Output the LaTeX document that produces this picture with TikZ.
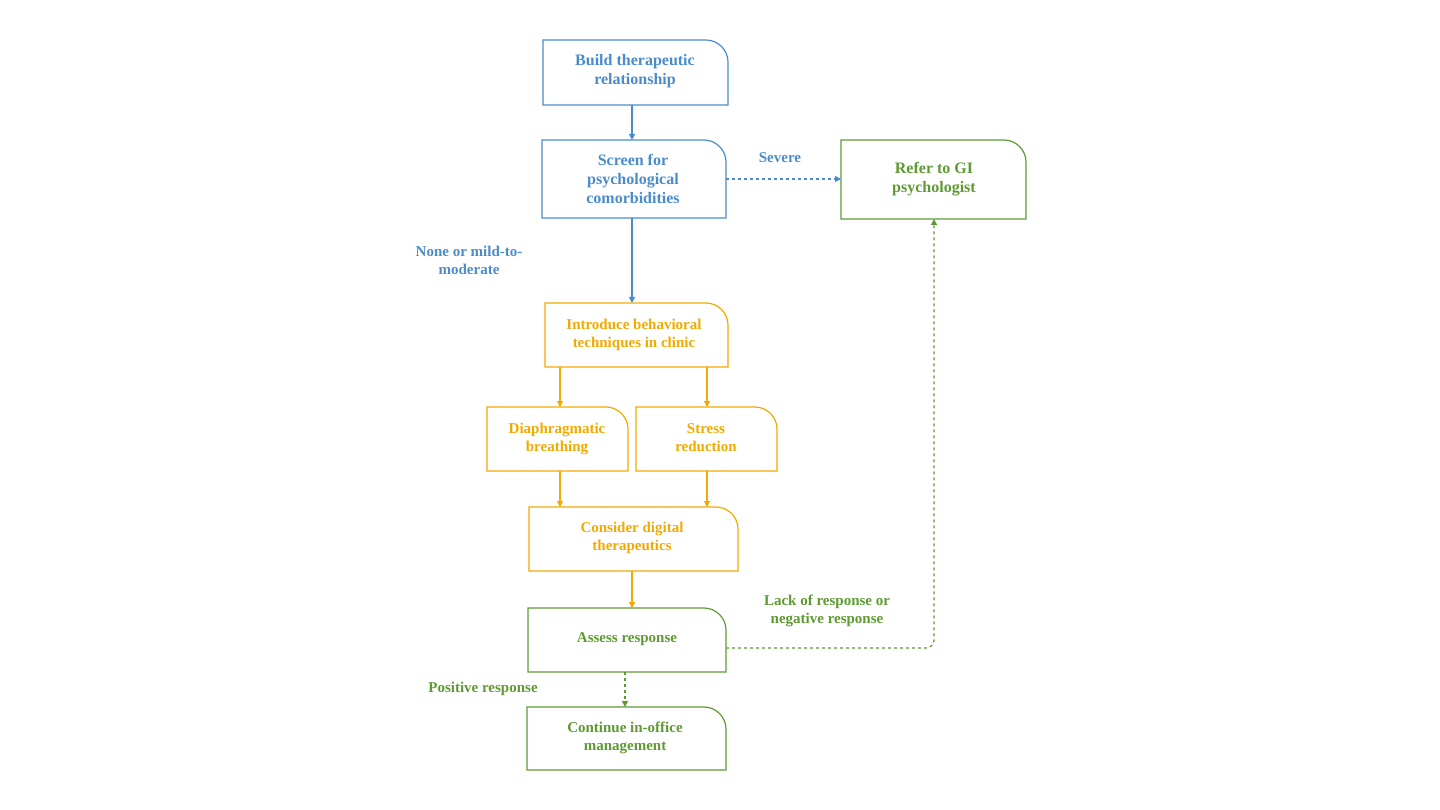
\documentclass[tikz,border=0pt]{standalone}
\usepackage{fontspec}
\setmainfont{Liberation Serif}
\usetikzlibrary{arrows.meta}
\definecolor{cb}{HTML}{4A8CCB}
\definecolor{co}{HTML}{F2A900}
\definecolor{cg}{HTML}{5E9A32}
\begin{document}
\begin{tikzpicture}[x=1pt,y=-1pt,
  lbl/.style={font=\bfseries\fontsize{16}{19}\selectfont,align=center},
  slbl/.style={font=\bfseries\fontsize{15}{18}\selectfont,align=center},
  arr/.style={line width=1.2pt,-{Triangle[length=6pt,width=6pt]}},
  dsh/.style={arr,dash pattern=on 3pt off 3pt}]
\path[use as bounding box] (0,0) rectangle (1440,810);
% box drawing: #1 color, #2 name, x1,y1,x2,y2
\newcommand\mybox[6]{%
  \coordinate (#2nw) at (#3,#4); \coordinate (#2se) at (#5,#6);
  \draw[#1,line width=1.2pt] (#3,#6) -- (#3,#4) -- ({#5-22},#4)
     .. controls ({#5-10},#4) and (#5,{#4+10}) .. (#5,{#4+22}) -- (#5,#6) -- cycle;
  \node (#2) at ({(#3+#5)/2},{(#4+#6)/2}) {};}
\mybox{cb}{build}{543}{40}{728}{105}
\mybox{cb}{screen}{542}{140}{726}{218}
\mybox{cg}{refer}{841}{140}{1026}{219}
\mybox{co}{intro}{545}{303}{728}{367}
\mybox{co}{diaph}{487}{407}{628}{471}
\mybox{co}{stress}{636}{407}{777}{471}
\mybox{co}{cons}{529}{507}{738}{571}
\mybox{cg}{assess}{528}{608}{726}{672}
\mybox{cg}{cont}{527}{707}{726}{770}
\node[lbl,text=cb] at (635,71) {Build therapeutic\\relationship};
\node[lbl,text=cb] at (633,179) {Screen for\\psychological\\comorbidities};
\node[lbl,text=cg] at (934,179) {Refer to GI\\psychologist};
\node[slbl,text=co] at (634,335) {Introduce behavioral\\techniques in clinic};
\node[slbl,text=co] at (557,439) {Diaphragmatic\\breathing};
\node[slbl,text=co] at (706,438) {Stress\\reduction};
\node[slbl,text=co] at (632,538) {Consider digital\\therapeutics};
\node[slbl,text=cg] at (627,639) {Assess response};
\node[slbl,text=cg] at (625,738) {Continue in-office\\management};
\node[slbl,text=cb] at (780,158) {Severe};
\node[slbl,text=cb] at (469,260) {None or mild-to-\\moderate};
\node[slbl,text=cg] at (483,689) {Positive response};
\node[slbl,text=cg] at (827,611) {Lack of response or\\negative response};
\coordinate (t1) at (632,140); \coordinate (f1) at (632,105);
\draw[arr,cb] (f1) -- (t1);
\coordinate (f2) at (726,179); \coordinate (t2) at (841,179);
\draw[dsh,cb] (f2) -- (t2);
\coordinate (f3) at (632,218); \coordinate (t3) at (632,303);
\draw[arr,cb] (f3) -- (t3);
\foreach \x in {560,707}{\draw[arr,co] (\x,367) -- (\x,407); \draw[arr,co] (\x,471) -- (\x,507);}
\coordinate (f4) at (632,571); \coordinate (t4) at (632,608);
\draw[arr,co] (f4) -- (t4);
\coordinate (f5) at (625,672); \coordinate (t5) at (625,707);
\draw[dsh,cg] (f5) -- (t5);
\coordinate (f6) at (726,648); \coordinate (t6) at (934,219);
\draw[dsh,cg,rounded corners=8pt] (f6) -| (t6);
\end{tikzpicture}
\end{document}
